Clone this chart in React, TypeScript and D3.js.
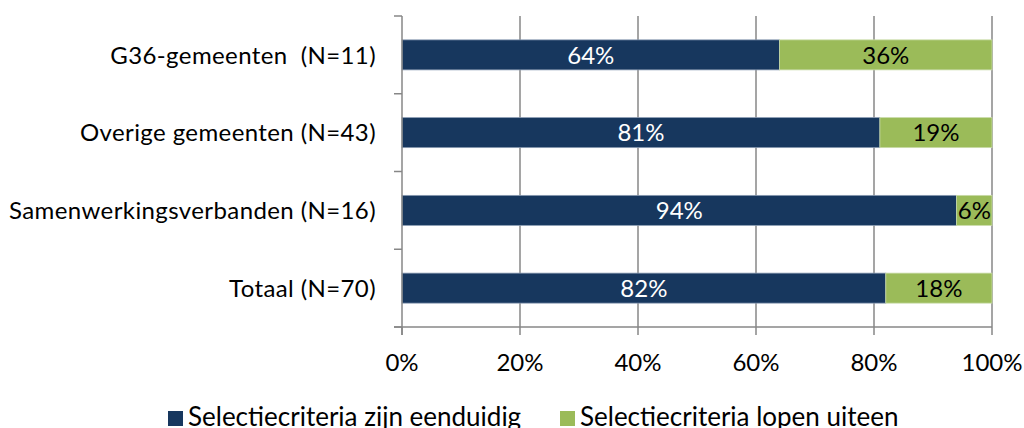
import React, { useEffect, useRef } from "react";
import * as d3 from "d3";

const categories = [
  "G36-gemeenten  (N=11)",
  "Overige gemeenten (N=43)",
  "Samenwerkingsverbanden (N=16)",
  "Totaal (N=70)",
];
const eenduidig = [64, 81, 94, 82];
const uiteen = [36, 19, 6, 18];
const seriesNames = ["Selectiecriteria zijn eenduidig", "Selectiecriteria lopen uiteen"];
const xTicks = [0, 20, 40, 60, 80, 100];

const width = 1024;
const height = 428;
const left = 402;
const right = 992;
const top = 16;
const bottom = 327;
const navy = "#17375E";
const green = "#9BBB59";
const gridColor = "#878787";
const font = "Lato, 'Open Sans', sans-serif";
const fs = 24;

const App: React.FC = () => {
  const svgRef = useRef<SVGSVGElement | null>(null);

  useEffect(() => {
    if (!svgRef.current) return;
    const svg = d3.select(svgRef.current);
    svg.selectAll("*").remove();

    const x = d3.scaleLinear().domain([0, 100]).range([left, right]);
    const y = d3.scaleBand().domain(categories).range([top, bottom]).paddingInner(0.614).paddingOuter(0.307);

    // vertical grid lines
    svg.selectAll(".grid").data(xTicks.slice(1)).enter().append("line")
      .attr("x1", (d) => x(d)).attr("x2", (d) => x(d))
      .attr("y1", top).attr("y2", bottom)
      .attr("stroke", gridColor).attr("stroke-width", 1.5);

    // bars
    categories.forEach((c, i) => {
      const y0 = y(c)!;
      svg.append("rect")
        .attr("x", x(0)).attr("y", y0)
        .attr("width", x(eenduidig[i]) - x(0)).attr("height", y.bandwidth())
        .attr("fill", navy).attr("stroke", "#8a9bb3").attr("stroke-width", 0.8);
      svg.append("rect")
        .attr("x", x(eenduidig[i])).attr("y", y0)
        .attr("width", x(eenduidig[i] + uiteen[i]) - x(eenduidig[i])).attr("height", y.bandwidth())
        .attr("fill", green).attr("stroke", "#c9dba8").attr("stroke-width", 0.8);
      svg.append("text")
        .attr("x", (x(0) + x(eenduidig[i])) / 2).attr("y", y0 + y.bandwidth() / 2)
        .attr("dy", "0.36em").attr("text-anchor", "middle")
        .attr("fill", "#fff").attr("font-size", fs).attr("font-family", font)
        .text(`${eenduidig[i]}%`);
      svg.append("text")
        .attr("x", (x(eenduidig[i]) + x(100)) / 2).attr("y", y0 + y.bandwidth() / 2)
        .attr("dy", "0.36em").attr("text-anchor", "middle")
        .attr("fill", "#000").attr("font-size", fs).attr("font-family", font)
        .text(`${uiteen[i]}%`);
      svg.append("text")
        .attr("x", 376).attr("y", y0 + y.bandwidth() / 2)
        .attr("dy", "0.36em").attr("text-anchor", "end")
        .attr("fill", "#000").attr("font-size", fs).attr("font-family", font)
        .attr("letter-spacing", 0.4)
        .style("white-space", "pre")
        .text(c);
    });

    // y axis
    svg.append("line")
      .attr("x1", left).attr("x2", left).attr("y1", top).attr("y2", bottom + 8)
      .attr("stroke", gridColor).attr("stroke-width", 1.5);
    const step = (bottom - top) / categories.length;
    d3.range(categories.length + 1).forEach((k) => {
      svg.append("line")
        .attr("x1", left - 8).attr("x2", left)
        .attr("y1", top + k * step).attr("y2", top + k * step)
        .attr("stroke", gridColor).attr("stroke-width", 1.5);
    });

    // x axis
    svg.append("line")
      .attr("x1", left - 8).attr("x2", right).attr("y1", bottom).attr("y2", bottom)
      .attr("stroke", gridColor).attr("stroke-width", 1.5);
    xTicks.forEach((t) => {
      svg.append("line")
        .attr("x1", x(t)).attr("x2", x(t)).attr("y1", bottom).attr("y2", bottom + 8)
        .attr("stroke", gridColor).attr("stroke-width", 1.5);
      svg.append("text")
        .attr("x", x(t)).attr("y", 362).attr("dy", "0.36em")
        .attr("text-anchor", "middle").attr("font-size", fs).attr("font-family", font)
        .text(`${t}%`);
    });

    // legend
    const legendX = [168, 560];
    seriesNames.forEach((s, i) => {
      svg.append("rect")
        .attr("x", legendX[i]).attr("y", 411).attr("width", 15).attr("height", 15)
        .attr("fill", i === 0 ? navy : green);
      svg.append("text")
        .attr("x", legendX[i] + 20).attr("y", 426)
        .attr("font-size", 26).attr("font-family", font)
        .text(s);
    });
  }, []);

  return (
    <svg
      ref={svgRef}
      width={width}
      height={height}
      style={{ display: "block", position: "absolute", left: 0, top: 0, background: "#fff" }}
    />
  );
};

export default App;
